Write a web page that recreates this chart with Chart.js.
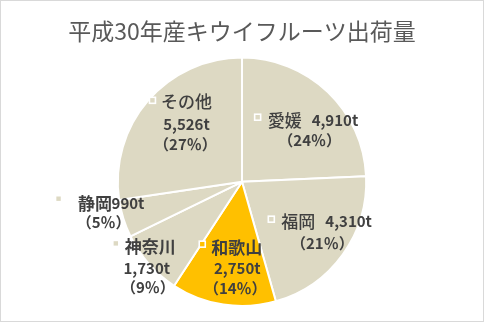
<!DOCTYPE html>
<html>
<head>
<meta charset="utf-8">
<script src="https://cdn.jsdelivr.net/npm/chart.js@4"></script>
<style>
  html, body { margin: 0; padding: 0; background: #fff; }
  #wrap { width: 484px; height: 322px; position: relative; }
</style>
</head>
<body>
<div id="wrap"><canvas id="pieChart"></canvas></div>
<script>
// 平成30年産キウイフルーツ出荷量

// Data
const chartTitle = '平成30年産キウイフルーツ出荷量';
const categories = ['愛媛', '福岡', '和歌山', '神奈川', '静岡', 'その他'];
const shipments  = [4910, 4310, 2750, 1730, 990, 5526]; // t
const highlight  = '和歌山';

const FONT = "'Noto Sans CJK JP', 'Noto Sans', sans-serif";
const TEXT = '#404040';
const BEIGE = '#DDD9C3';
const GOLD  = '#FFC000';

const total = shipments.reduce((a, b) => a + b, 0);
const sliceColors = categories.map(c => c === highlight ? GOLD : BEIGE);

// Label placement (marker position as fraction of radius from centre,
// text offsets in px from the marker). Manually placed like the original.
const labelLayout = {
  '愛媛':   { at: [0.126, -0.520], nameBold: false, inline: true,  nx: 10, ny: 3,   vx: 54, vy: 3.5, px: 52, py: 23 },
  '福岡':   { at: [0.236,  0.301], nameBold: false, inline: true,  nx: 10, ny: 2.5, vx: 54, vy: 2.5, px: 51, py: 24 },
  '和歌山': { at: [-0.320, 0.502], nameBold: true,  inline: false, nx: 9,  ny: 3.5, vx: 35, vy: 24.5, px: 33, py: 44.5 },
  '神奈川': { at: [-1.016, 0.496], nameBold: true,  inline: false, nx: 9,  ny: 3,   vx: 31, vy: 25, px: 32, py: 43.5 },
  '静岡':   { at: [-1.477, 0.136], nameBold: true,  inline: true,  nx: 19.5, ny: 4.5, vx: 53, vy: 4.5, px: 45, py: 24 },
  'その他': { at: [-0.721, -0.656], nameBold: false, inline: false, nx: 8.5, ny: 1.5, vx: 34, vy: 23.5, px: 33, py: 43.5 }
};

const fmt = n => n.toLocaleString('en-US') + 't';

// Data labels drawn from the arc elements
const pieLabels = {
  id: 'pieLabels',
  afterDatasetsDraw(chart) {
    const ctx = chart.ctx;
    const arcs = chart.getDatasetMeta(0).data;
    ctx.save();
    arcs.forEach((arc, i) => {
      const name = categories[i];
      const lay = labelLayout[name];
      const mx = arc.x + lay.at[0] * arc.outerRadius;
      const my = arc.y + lay.at[1] * arc.outerRadius;

      // legend key
      ctx.fillStyle = sliceColors[i];
      ctx.strokeStyle = '#fff';
      ctx.lineWidth = 1.6;
      ctx.fillRect(mx - 3, my - 3, 6, 6);
      ctx.strokeRect(mx - 3, my - 3, 6, 6);

      ctx.fillStyle = TEXT;
      ctx.textBaseline = 'middle';

      ctx.textAlign = 'left';
      ctx.font = (lay.nameBold ? 'bold ' : '500 ') + '17px ' + FONT;
      ctx.fillText(name, mx + lay.nx, my + lay.ny);

      ctx.font = 'bold 15px ' + FONT;
      ctx.textAlign = lay.inline ? 'left' : 'center';
      ctx.fillText(fmt(shipments[i]), mx + lay.vx, my + lay.vy);

      const pct = Math.round(shipments[i] / total * 100);
      ctx.textAlign = 'center';
      ctx.fillText('（' + pct + '％）', mx + lay.px, my + lay.py);
    });
    ctx.restore();
  }
};

// Light frame round the chart
const chartFrame = {
  id: 'chartFrame',
  afterDraw(chart) {
    const ctx = chart.ctx;
    ctx.save();
    ctx.strokeStyle = '#D9D9D9';
    ctx.lineWidth = 1;
    ctx.strokeRect(0.5, 0.5, chart.width - 1, chart.height - 1);
    ctx.restore();
  }
};

new Chart(document.getElementById('pieChart'), {
  type: 'pie',
  data: {
    labels: categories,
    datasets: [{
      data: shipments,
      backgroundColor: sliceColors,
      borderColor: '#fff',
      borderWidth: 2
    }]
  },
  options: {
    responsive: true,
    maintainAspectRatio: false,
    animation: false,
    layout: { padding: { bottom: 15 } },
    plugins: {
      legend: { display: false },
      tooltip: { enabled: false },
      title: {
        display: true,
        text: chartTitle,
        color: '#595959',
        font: { family: FONT, size: 23, weight: 'normal' },
        padding: { top: 17, bottom: 12 }
      }
    }
  },
  plugins: [pieLabels, chartFrame]
});
</script>
</body>
</html>
